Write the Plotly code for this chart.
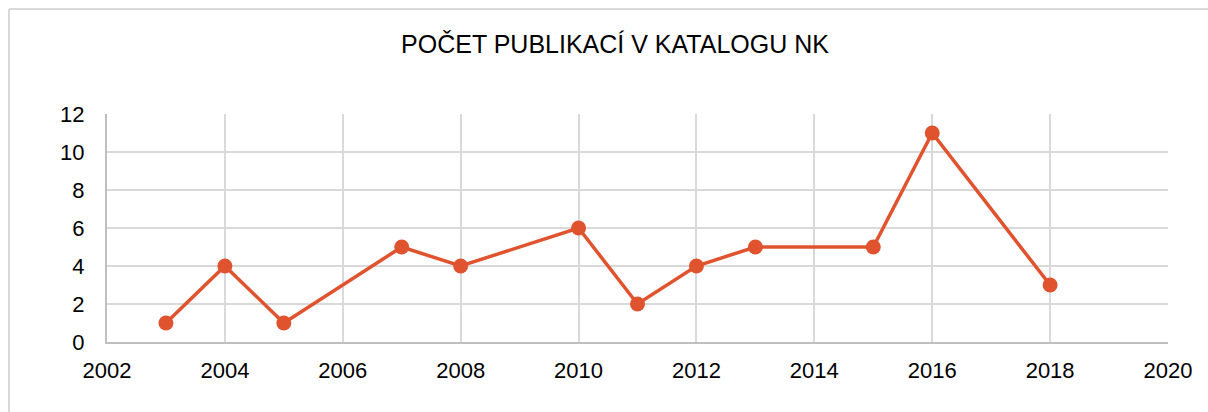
import plotly.graph_objects as go

years = [2003, 2004, 2005, 2007, 2008, 2010, 2011, 2012, 2013, 2015, 2016, 2018]
counts = [1, 4, 1, 5, 4, 6, 2, 4, 5, 5, 11, 3]
title_text = "POČET PUBLIKACÍ V KATALOGU NK"

FONT = "Liberation Sans Narrow, Arial Narrow, Liberation Sans, Arial, sans-serif"
COLOR = "#E0532F"

fig = go.Figure()
fig.add_trace(go.Scatter(
    x=years, y=counts, mode="lines+markers",
    line=dict(color=COLOR, width=3.5),
    marker=dict(color=COLOR, size=15),
    showlegend=False,
))

L, R, T, B = 107, 40, 114, 70
W, H = 1208, 412
pw, ph = W - L - R, H - T - B

bx0 = (9 - L) / pw
bx1 = (W + 30 - L) / pw
by0 = -(B + 30) / ph
by1 = 1 + (T - 9) / ph
frame = dict(color="#d9d9d9", width=2)

fig.update_layout(
    width=W, height=H,
    margin=dict(l=L, r=R, t=T, b=B),
    paper_bgcolor="white", plot_bgcolor="white",
    font=dict(family=FONT, size=22, color="#000000"),
    title=dict(text=title_text, x=615 / W, xanchor="center",
               y=1 - 44 / H, yanchor="middle",
               font=dict(family=FONT, size=25, color="#000000")),
    xaxis=dict(range=[2002, 2020], tickmode="linear", tick0=2002, dtick=2,
               showgrid=True, gridcolor="#d9d9d9", gridwidth=2,
               showline=True, linecolor="#bfbfbf", linewidth=2,
               ticks="", ticklabelstandoff=8, zeroline=False,
               tickfont=dict(family=FONT, size=22)),
    yaxis=dict(range=[0, 12], tickmode="linear", tick0=0, dtick=2,
               showgrid=True, gridcolor="#d9d9d9", gridwidth=2,
               showline=True, linecolor="#bfbfbf", linewidth=2,
               ticks="", ticklabelstandoff=16, zeroline=False,
               tickfont=dict(family=FONT, size=22)),
    shapes=[
        dict(type="line", xref="paper", yref="paper", x0=bx0, x1=bx0, y0=by0, y1=by1,
             line=frame, layer="below"),
        dict(type="line", xref="paper", yref="paper", x0=bx0, x1=bx1, y0=by1, y1=by1,
             line=frame, layer="below"),
    ],
)

fig.write_html("out.html",
               config={"displayModeBar": False},
               post_script="document.body.style.margin='0';document.body.style.overflow='hidden';")
